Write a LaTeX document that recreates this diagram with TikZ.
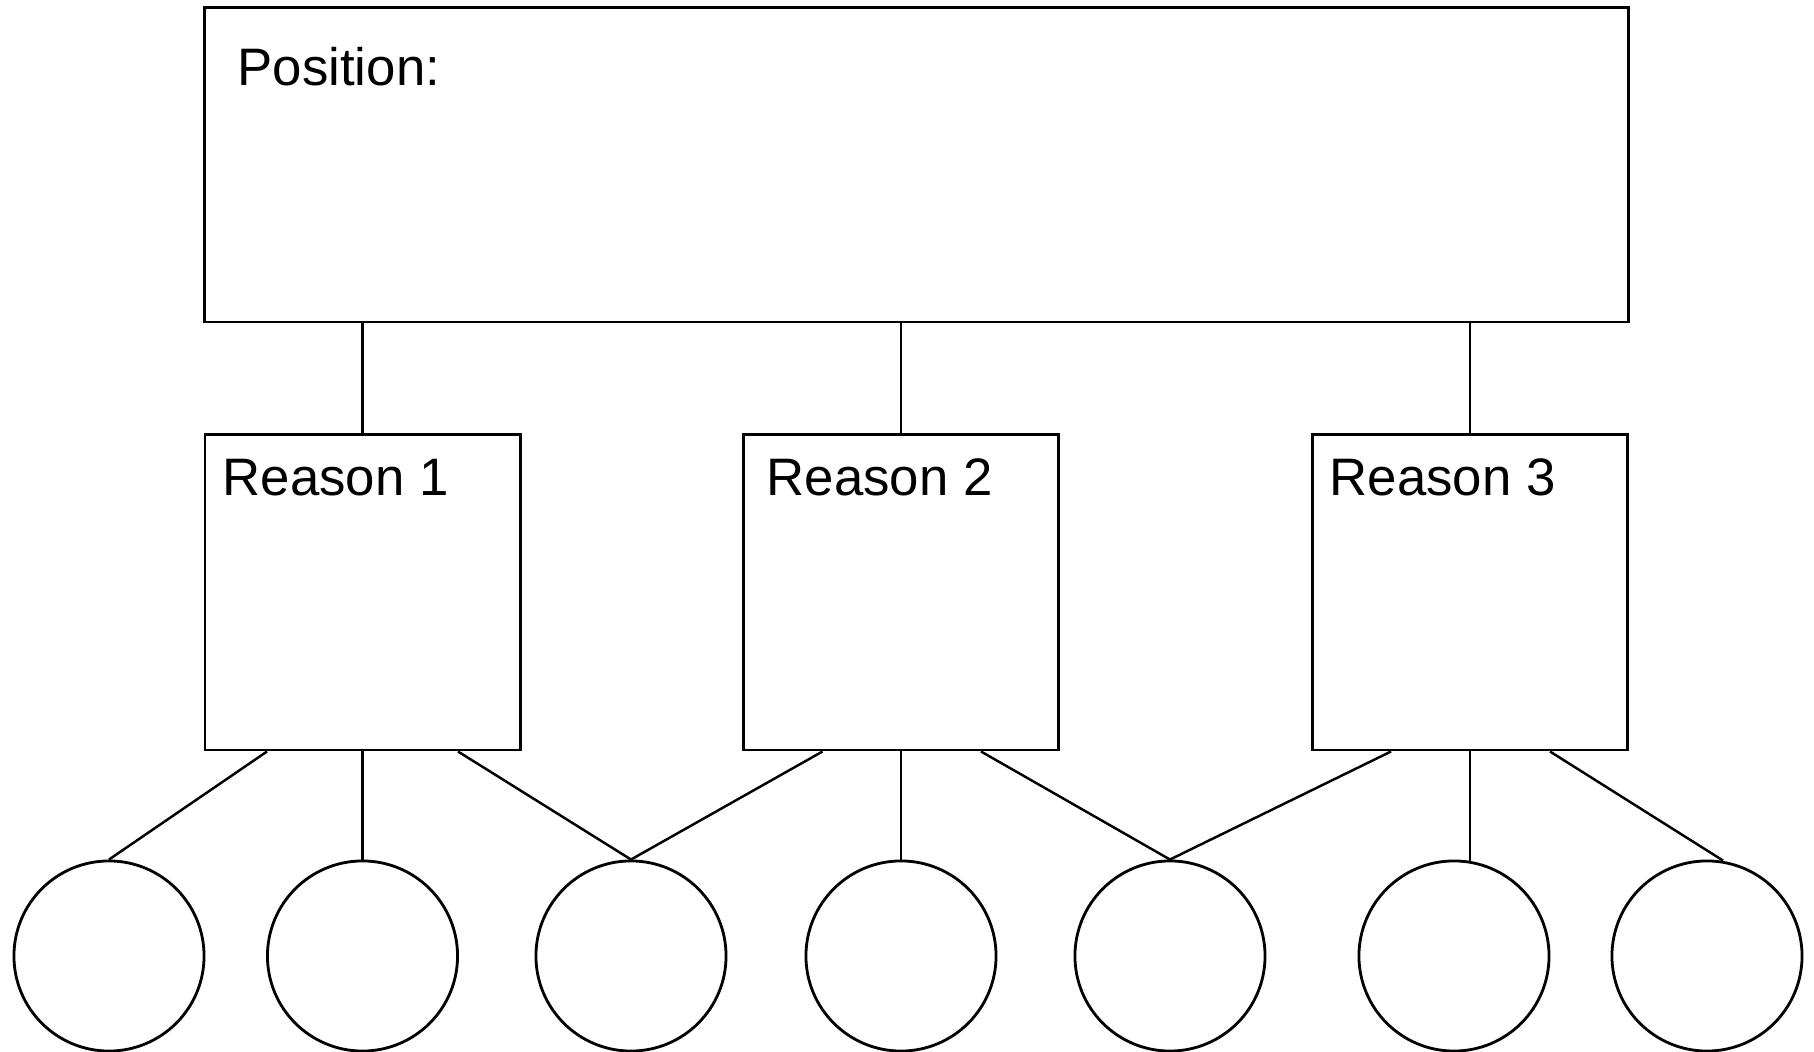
\documentclass[tikz,border=0pt]{standalone}
\usepackage{fontspec}
\setmainfont{Liberation Sans}
\usetikzlibrary{calc}
\begin{document}
\begin{tikzpicture}[x=0.01cm,y=-0.01cm,
  box/.style={draw=black,line width=0.8pt,rectangle,inner sep=0pt,fill=white},
  bubble/.style={draw=black,line width=0.8pt,circle,inner sep=0pt,minimum size=1.9cm},
  lab/.style={anchor=base west,inner sep=0pt,font=\fontsize{15}{18}\selectfont},
  link/.style={draw=black,line width=0.7pt}]
\useasboundingbox[fill=white] (0,0) rectangle (1814,1052);
% boxes
\node[box,minimum width=14.23cm,minimum height=3.14cm] (pos) at (916.5,165) {};
\node[box,minimum width=3.15cm,minimum height=3.15cm] (r1) at (362.5,592.5) {};
\node[box,minimum width=3.15cm,minimum height=3.15cm] (r2) at (901,592.5) {};
\node[box,minimum width=3.15cm,minimum height=3.15cm] (r3) at (1470,592.5) {};
% labels
\node[lab] (tpos) at (237,86) {Position:};
\node[lab] (t1) at (222,496) {Reason 1};
\node[lab] (t2) at (766,496) {Reason 2};
\node[lab] (t3) at (1329,496) {Reason 3};
% circles
\node[bubble] (c1) at (109,956) {};
\node[bubble] (c2) at (362.5,956) {};
\node[bubble] (c3) at (631,956) {};
\node[bubble] (c4) at (901,956) {};
\node[bubble] (c5) at (1170,956) {};
\node[bubble] (c6) at (1454,956) {};
\node[bubble] (c7) at (1707,956) {};
% position to reasons
\draw[link] (r1.north |- pos.south) -- (r1.north);
\draw[link] (r2.north |- pos.south) -- (r2.north);
\draw[link] (r3.north |- pos.south) -- (r3.north);
% reason 1
\draw[link] ($(r1.south)+(-95.5,0)$) -- (c1.north);
\draw[link] (r1.south) -- (c2.north);
\draw[link] ($(r1.south)+(95.5,0)$) -- (c3.north);
% reason 2
\draw[link] ($(r2.south)+(-78.5,0)$) -- (c3.north);
\draw[link] (r2.south) -- (c4.north);
\draw[link] ($(r2.south)+(80,0)$) -- (c5.north);
% reason 3
\draw[link] ($(r3.south)+(-79,0)$) -- (c5.north);
\draw[link] (r3.south) -- ($(r3.south |- c6.north)+(0,1)$);
\draw[link] ($(r3.south)+(80,0)$) -- ($(c7.north)+(16,1)$);
\end{tikzpicture}
\end{document}
